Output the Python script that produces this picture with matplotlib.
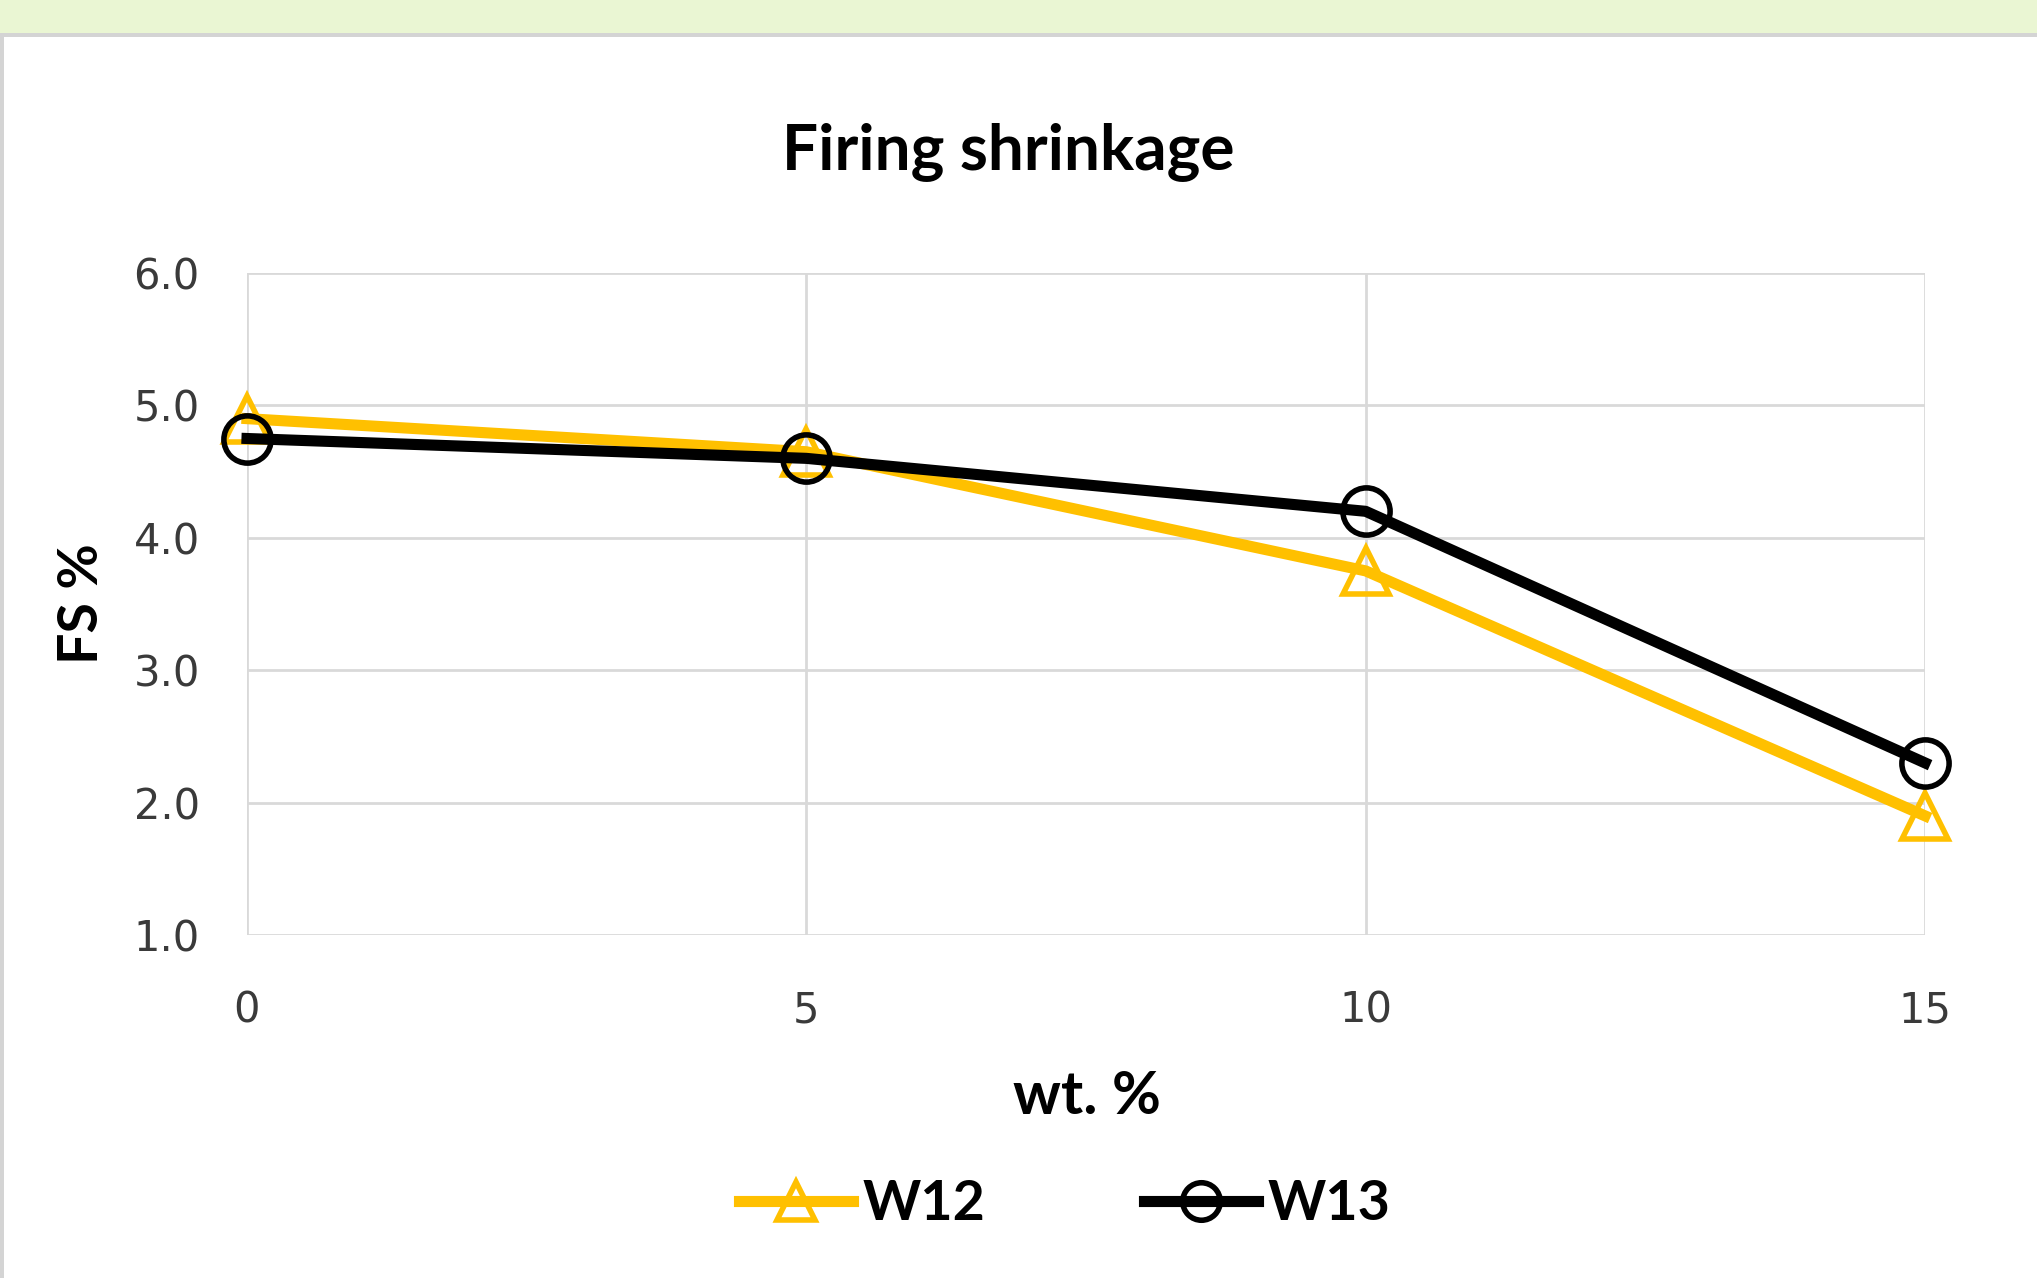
import matplotlib
matplotlib.use("Agg")
import matplotlib.pyplot as plt
from matplotlib.patches import Rectangle

# data
wt = [0, 5, 10, 15]
w12 = [4.9, 4.65, 3.75, 1.9]
w13 = [4.75, 4.6, 4.2, 2.3]
series_names = ["W12", "W13"]
y_ticks = [1.0, 2.0, 3.0, 4.0, 5.0, 6.0]

W, H = 2037, 1278
fig = plt.figure(figsize=(W / 100, H / 100), dpi=100)

# green strip on top + gray frame of the chart area
fig.patches.append(Rectangle((0, 1 - 33 / H), 1, 33 / H, transform=fig.transFigure,
                             facecolor="#eaf6d3", edgecolor="none", zorder=0))
fig.patches.append(Rectangle((0, 1 - 37 / H), 1, 4 / H, transform=fig.transFigure,
                             facecolor="#d4d4d4", edgecolor="none", zorder=0))
fig.patches.append(Rectangle((0, 0), 4 / W, 1 - 37 / H, transform=fig.transFigure,
                             facecolor="#d4d4d4", edgecolor="none", zorder=0))

ax = fig.add_axes([247 / W, 1 - 935 / H, (1925 - 247) / W, (935 - 273) / H])

ax.plot(wt, w12, color="#ffc000", lw=8, marker="^", ms=33, mfc="none",
        mec="#ffc000", mew=4, label=series_names[0], zorder=3, clip_on=False)
ax.plot(wt, w13, color="#000000", lw=8, marker="o", ms=34, mfc="none",
        mec="#000000", mew=4, label=series_names[1], zorder=4, clip_on=False)

ax.set_xlim(0, 15)
ax.set_ylim(1, 6)
ax.set_xticks(wt)
ax.set_yticks(y_ticks)
ax.set_yticklabels([f"{v:.1f}" for v in y_ticks])
ax.grid(True, color="#d9d9d9", lw=2)
ax.set_axisbelow(True)
for s in ax.spines.values():
    s.set_visible(False)
ax.tick_params(length=0, labelsize=30, colors="#3a3a3a")
ax.tick_params(axis="y", pad=34)
ax.tick_params(axis="x", pad=39)
for lab in ax.get_xticklabels() + ax.get_yticklabels():
    lab.set_fontfamily("DejaVu Sans")

fig.text(1008 / W, 1 - 152 / H, "Firing shrinkage", ha="center", va="center",
         fontsize=46, fontweight="bold", family="Lato")
fig.text(1087 / W, 1 - 1097 / H, "wt. %", ha="center", va="center",
         fontsize=43, fontweight="bold", family="Lato")
fig.text(82 / W, 1 - 604 / H, "FS %", ha="center", va="center", rotation=90,
         fontsize=40, fontweight="bold", family="Lato")

leg = fig.legend(loc="center", bbox_to_anchor=(1065 / W, 1 - 1204 / H), ncol=2,
                 frameon=False, handlelength=2.05, handletextpad=0.18, columnspacing=2.85,
                 prop={"family": "Lato", "weight": "bold", "size": 40})
for h in leg.legend_handles:
    h.set_markersize(27)

fig.savefig("out.png", dpi=100, facecolor="white")
